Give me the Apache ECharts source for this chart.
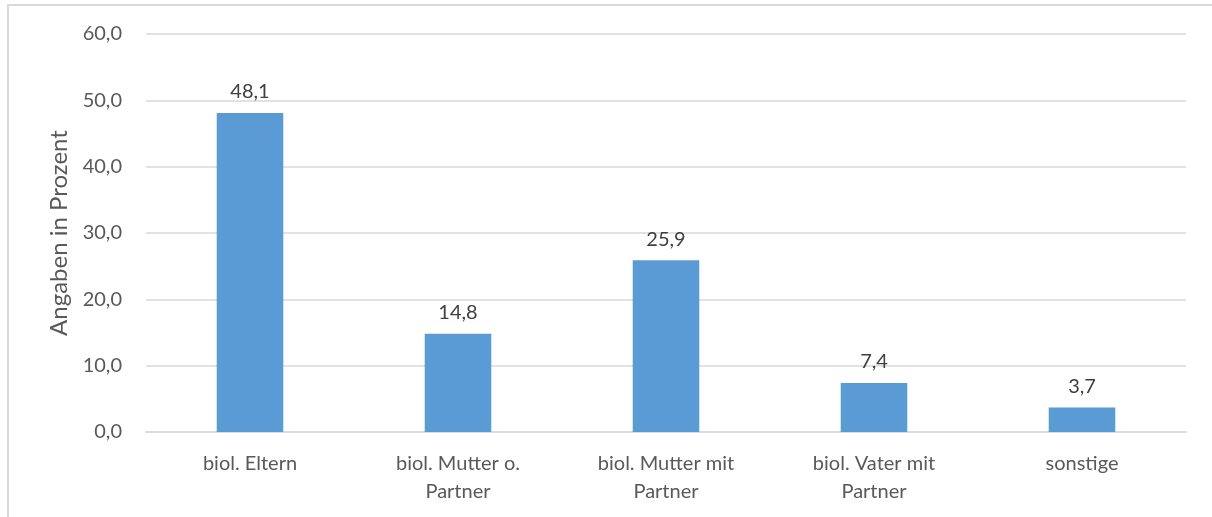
<!DOCTYPE html>
<html>
<head>
<meta charset="utf-8">
<script src="https://cdn.jsdelivr.net/npm/echarts@6/dist/echarts.min.js"></script>
<style>
  html, body { margin: 0; padding: 0; background: #fff; }
  #frame { position: absolute; left: 7px; top: 4px; width: 1205px; height: 513px;
           border-left: 2px solid #d9d9d9; border-top: 2px solid #d9d9d9; box-sizing: border-box; }
  #chart { position: absolute; left: 0; top: 0; width: 1212px; height: 517px; }
</style>
</head>
<body>
<div id="frame"></div>
<div id="chart"></div>
<script>
  // Werte
  var categories = ['biol. Eltern', 'biol. Mutter o.\nPartner', 'biol. Mutter mit\nPartner', 'biol. Vater mit\nPartner', 'sonstige'];
  var values = [48.1, 14.8, 25.9, 7.4, 3.7];
  var axisName = 'Angaben in Prozent';

  var fmt = function (v) { return v.toFixed(1).replace('.', ','); };
  var font = 'Lato, "Open Sans", sans-serif';

  var chart = echarts.init(document.getElementById('chart'));
  chart.setOption({
    animation: false,
    textStyle: { fontFamily: font },
    grid: { left: 146, right: 26, top: 34, bottom: 85, containLabel: false },
    xAxis: {
      type: 'category',
      data: categories,
      axisLine: { lineStyle: { color: '#d9d9d9', width: 1.5 } },
      axisTick: { show: false },
      axisLabel: { color: '#595959', fontSize: 20, fontFamily: font, margin: 18, lineHeight: 28 }
    },
    yAxis: {
      type: 'value',
      min: 0,
      max: 60,
      interval: 10,
      name: axisName,
      nameLocation: 'middle',
      nameGap: 74,
      nameTextStyle: { color: '#595959', fontSize: 24, fontFamily: font },
      axisLine: { show: false },
      axisTick: { show: false },
      axisLabel: { color: '#595959', fontSize: 20, fontFamily: font, margin: 24, formatter: fmt },
      splitLine: { lineStyle: { color: '#d9d9d9', width: 1.5 } }
    },
    series: [{
      type: 'bar',
      data: values,
      barWidth: '32%',
      itemStyle: { color: '#5b9bd5' },
      label: {
        show: true,
        position: 'top',
        distance: 11,
        color: '#404040',
        fontSize: 20,
        fontFamily: font,
        formatter: function (p) { return fmt(p.value); }
      }
    }]
  });
</script>
</body>
</html>
